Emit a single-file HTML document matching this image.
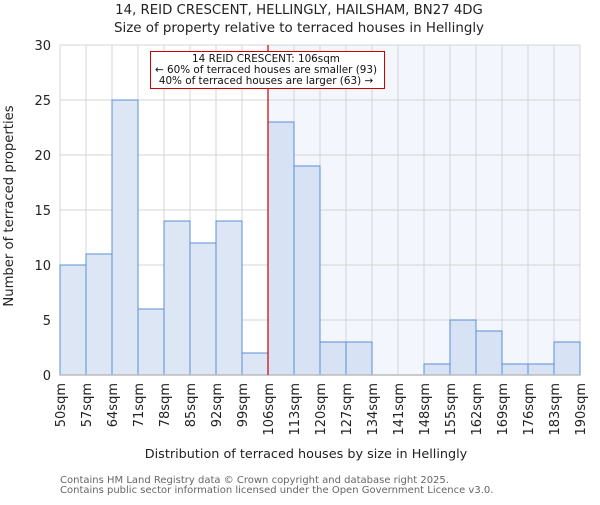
<!DOCTYPE html>
<html><head><meta charset="utf-8"><style>
body{margin:0;background:#fff;}
svg{font-family:"DejaVu Sans","Liberation Sans",sans-serif;}
</style></head><body>
<svg id="c" width="600" height="500">
<text x="299" y="14" text-anchor="middle" font-size="13.3" fill="#222">14, REID CRESCENT, HELLINGLY, HAILSHAM, BN27 4DG</text>
<text x="299" y="32" text-anchor="middle" font-size="13.4" fill="#222">Size of property relative to terraced houses in Hellingly</text>
<g id="plot"></g>
<text x="306" y="458" text-anchor="middle" font-size="12.8" fill="#222">Distribution of terraced houses by size in Hellingly</text>
<text transform="translate(13,206) rotate(-90)" text-anchor="middle" font-size="13.2" fill="#222">Number of terraced properties</text>
<text x="60" y="483" font-size="10" fill="#666">Contains HM Land Registry data © Crown copyright and database right 2025.</text>
<text x="60" y="493" font-size="10" fill="#666">Contains public sector information licensed under the Open Government Licence v3.0.</text>
</svg>
<script>
const binLabels=["50sqm","57sqm","64sqm","71sqm","78sqm","85sqm","92sqm","99sqm","106sqm","113sqm","120sqm","127sqm","134sqm","141sqm","148sqm","155sqm","162sqm","169sqm","176sqm","183sqm","190sqm"];
const counts=[10,11,25,6,14,12,14,2,23,19,3,3,0,0,1,5,4,1,1,3];
const yTicks=[0,5,10,15,20,25,30];
const markerIndex=8;
const annotation=["14 REID CRESCENT: 106sqm","← 60% of terraced houses are smaller (93)","40% of terraced houses are larger (63) →"];
const X0=60,X1=580,Y0=375,Y1=45,YMAX=30;
const bw=(X1-X0)/counts.length;
const xs=i=>X0+i*bw;
const ys=v=>Y0-(v/YMAX)*(Y0-Y1);
const NS="http://www.w3.org/2000/svg";
const g=document.getElementById('plot');
function mk(t,a){const e=document.createElementNS(NS,t);for(const k in a)e.setAttribute(k,a[k]);g.appendChild(e);return e;}
let e=mk('rect',{x:xs(markerIndex),y:Y1,width:X1-xs(markerIndex),height:Y0-Y1,fill:'#f3f6fd'});


for(const t of yTicks){
 e=mk('line',{x1:X0,x2:X1,y1:ys(t),y2:ys(t),stroke:'#d4d4d4','stroke-width':1});
 
 
 e=mk('text',{x:X0-9,y:ys(t)+5,'text-anchor':'end','font-size':13,fill:'#222'});
 e.textContent=t;
 
 
}
for(let i=0;i<binLabels.length;i++){
 e=mk('line',{x1:xs(i),x2:xs(i),y1:Y1,y2:Y0,stroke:'#d4d4d4','stroke-width':1});
 
 
 e=mk('text',{transform:`translate(${xs(i)+5},${Y0+8}) rotate(-90)`,'text-anchor':'end','font-size':13,fill:'#222'});
 e.textContent=binLabels[i];
 
 
}
counts.forEach((c,i)=>{
 e=mk('rect',{x:xs(i),y:ys(c),width:bw,height:Y0-ys(c),fill:i>=markerIndex?'#d7e2f4':'#dde6f4',stroke:'#5b8fd6','stroke-width':1});
 
 
});
e=mk('line',{x1:X0,x2:X1,y1:Y0,y2:Y0,stroke:'#bbb','stroke-width':1.5});


e=mk('line',{x1:xs(markerIndex),x2:xs(markerIndex),y1:Y1,y2:Y0,stroke:'#cc0000','stroke-width':1.2});


e=mk('rect',{x:150.5,y:51.5,width:234,height:37,fill:'#fff',stroke:'#cc0000','stroke-width':1});


annotation.forEach((s,k)=>{
 e=mk('text',{x:266,y:62+k*11,'text-anchor':'middle','font-size':10.4,fill:'#111'});
 e.textContent=s;
 
 
});
</script>
</body></html>
